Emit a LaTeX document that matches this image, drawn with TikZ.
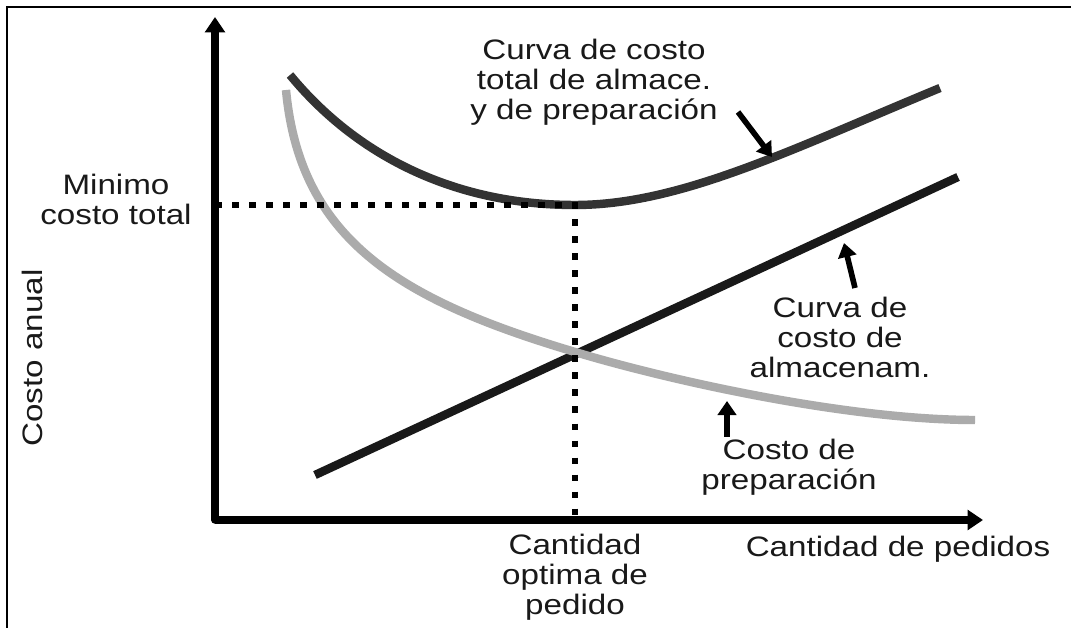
\documentclass[tikz,border=0pt]{standalone}
\usepackage{fontspec}
\setmainfont{Liberation Sans}[FakeStretch=1.18]
\usetikzlibrary{arrows.meta}

\begin{document}
\begin{tikzpicture}[
        x=0.025cm, y=-0.025cm,
        every node/.style={font=\fontsize{20}{21.3}\selectfont, text=black!90, align=center, inner sep=0pt},
        axis/.style={line width=5.4pt, -{Triangle[length=11pt,width=14pt]}},
        guide/.style={line width=4.8pt, dash pattern=on 4.8pt off 7.3pt},
        curve/.style={line width=6pt},
        pointer/.style={line width=4pt, -{Triangle[length=10pt,width=13pt]}}
    ]
    \useasboundingbox (0,0) rectangle (1071,628);
    \fill[white] (0,0) rectangle (1071,628);
    \draw[line width=1.6pt] (7,628) |- (1071,7);

    % axes
    \coordinate (origin) at (215,520);
    \coordinate (ytop) at (215,17);
    \coordinate (xend) at (983,520);
    \draw[axis, line cap=round] (origin) -- (ytop);
    \draw[axis] (origin) -- (xend);

    % curves
    \draw[curve, black!90] (315,475) -- (958,177);
    \draw[curve, black!33] (286,90) .. controls (300,240) and (400,300) .. (575,352)
        .. controls (675,382) and (850,420) .. (975,420);
    \draw[curve, black!80] (290,75) .. controls (360,160) and (460,205) .. (575,205)
        .. controls (680,205) and (790,150) .. (940,88);

    % optimum
    \coordinate (minpt) at (575,205);
    \coordinate (minaxis) at (215,205);
    \coordinate (optaxis) at (575,520);
    \draw[guide] (minaxis) -- (minpt) -- (optaxis);

    % labels
    \node (minlabel) at (116,199) {Minimo\\costo total};
    \node[rotate=90] (ylabel) at (32,358) {Costo anual};
    \node (xlabel) at (898,549) {Cantidad de pedidos};
    \node (optlabel) at (575,577) {Cantidad\\optima de\\pedido};
    \node (totallabel) at (594,82) {Curva de costo\\total de almace.\\y de preparaci\'on};
    \node (almlabel) at (840,337) {Curva de\\costo de\\almacenam.};
    \node (preplabel) at (789,467) {Costo de\\preparaci\'on};

    % pointers
    \coordinate (totaltail) at (738,112);
    \coordinate (totaltip) at (772,157);
    \coordinate (almtail) at (855,288);
    \coordinate (almtip) at (844,243);
    \coordinate (preptail) at (727,437);
    \coordinate (preptip) at (727,401);
    \draw[pointer] (totaltail) -- (totaltip);
    \draw[pointer] (almtail) -- (almtip);
    \draw[pointer] (preptail) -- (preptip);
\end{tikzpicture}
\end{document}
